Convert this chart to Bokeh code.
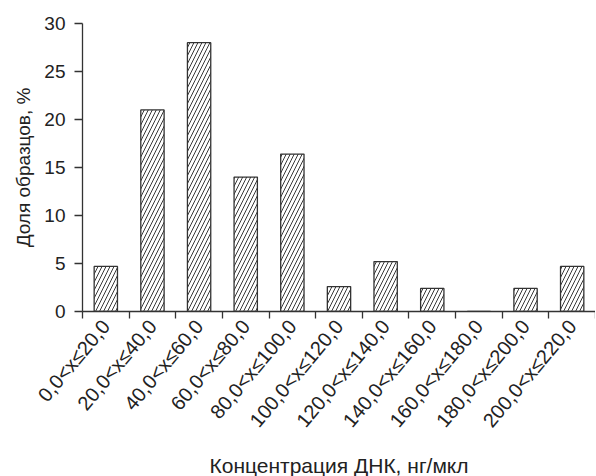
import math
from bokeh.plotting import figure
from bokeh.models import Range1d, FixedTicker, ColumnDataSource
from bokeh.embed import file_html
from bokeh.resources import INLINE

categories = ["0,0<x≤20,0", "20,0<x≤40,0", "40,0<x≤60,0", "60,0<x≤80,0",
              "80,0<x≤100,0", "100,0<x≤120,0", "120,0<x≤140,0", "140,0<x≤160,0",
              "160,0<x≤180,0", "180,0<x≤200,0", "200,0<x≤220,0"]
values = [4.7, 21.0, 28.0, 14.0, 16.4, 2.6, 5.2, 2.4, 0.0, 2.4, 4.7]
y_ticks = [0, 5, 10, 15, 20, 25, 30]

n = len(categories)
centers = [i + 0.5 for i in range(n)]
bounds = list(range(n + 1))

FONT = "Liberation Sans"

p = figure(frame_width=513, frame_height=288, output_backend="svg", toolbar_location=None,
           x_range=Range1d(0, n), y_range=Range1d(0, 30),
           min_border_top=23, min_border_right=0, min_border_left=82, min_border_bottom=10)

src = ColumnDataSource(dict(x=centers, top=values))
p.vbar(x="x", top="top", bottom=0, width=0.5, source=src,
       fill_color="white", line_color="#333333", line_width=1.3,
       hatch_pattern="right_diagonal_line", hatch_color="#222222",
       hatch_scale=8, hatch_weight=0.9)

p.grid.visible = False
p.outline_line_color = None
p.background_fill_color = "white"

# x axis
xa = p.xaxis[0]
xa.ticker = FixedTicker(ticks=centers, minor_ticks=bounds)
xa.major_label_overrides = {c: lab for c, lab in zip(centers, categories)}
xa.major_tick_line_color = None
xa.minor_tick_line_color = "#333333"
xa.minor_tick_line_width = 1.3
xa.minor_tick_out = 7
xa.minor_tick_in = 0
xa.axis_line_color = "#333333"
xa.axis_line_width = 1.3
xa.major_label_orientation = 50 * math.pi / 180
xa.major_label_text_font = FONT
xa.major_label_text_font_size = "20px"
xa.major_label_text_color = "#222222"
xa.major_label_standoff = 4
xa.axis_label = "Концентрация ДНК, нг/мкл"
xa.axis_label_text_font = FONT
xa.axis_label_text_font_size = "21px"
xa.axis_label_text_font_style = "normal"
xa.axis_label_text_color = "#222222"
xa.axis_label_standoff = 13

# y axis
ya = p.yaxis[0]
ya.ticker = FixedTicker(ticks=y_ticks, minor_ticks=[])
ya.major_tick_out = 8
ya.major_tick_in = 0
ya.major_tick_line_color = "#333333"
ya.major_tick_line_width = 1.3
ya.axis_line_color = "#333333"
ya.axis_line_width = 1.3
ya.major_label_text_font = FONT
ya.major_label_text_font_size = "19px"
ya.major_label_text_color = "#222222"
ya.major_label_standoff = 9
ya.axis_label = "Доля образцов, %"
ya.axis_label_text_font = FONT
ya.axis_label_text_font_size = "19px"
ya.axis_label_text_font_style = "normal"
ya.axis_label_text_color = "#222222"
ya.axis_label_standoff = 7

open("out.html", "w").write(file_html(p, INLINE))
